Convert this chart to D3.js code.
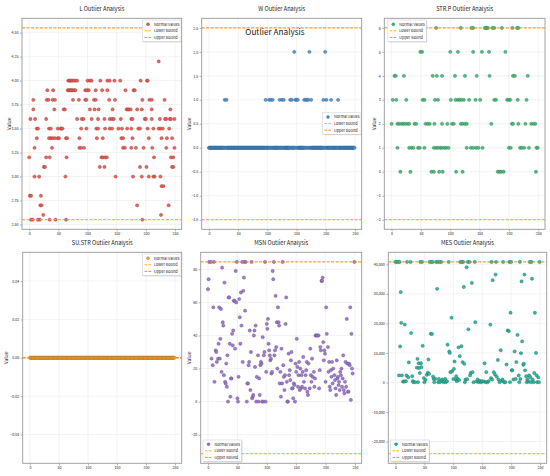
<!DOCTYPE html>
<html>
<head>
<meta charset="utf-8">
<script src="https://cdn.jsdelivr.net/npm/d3@7"></script>
<style>
  body { margin: 0; background: #fff; }
  text { font-family: "Noto Sans CJK SC", sans-serif; fill: #222; }
</style>
</head>
<body>
<script>
// values (index 0..249 on x)
const xTicks = [0, 50, 100, 150, 200, 250];
const legendLabels = ['Normal Values', 'Lower Bound', 'Upper Bound'];

// L: [value, indices at that value]
const lRows = [
  [4.2, [222]],
  [4.0, [67, 69, 71, 73, 76, 79, 82, 100, 104, 107, 122, 134, 138, 146, 156, 191, 202, 203]],
  [3.9, [31, 41, 66, 68, 70, 72, 74, 77, 79, 96, 99, 102, 114, 125, 134, 165, 179, 181]],
  [3.8, [7, 30, 33, 40, 44, 75, 85, 96, 98, 111, 114, 137, 147, 194, 206, 210, 232]],
  [3.7, [7, 43, 59, 61, 104, 112, 119, 143, 167, 169, 171, 174, 185, 193, 210, 242]],
  [3.6, [2, 10, 29, 82, 90, 93, 107, 118, 129, 138, 142, 145, 157, 175, 177, 198, 200, 210, 224, 233, 235, 241, 243, 249]],
  [3.5, [13, 15, 34, 37, 49, 54, 55, 57, 89, 98, 115, 118, 130, 138, 142, 153, 159, 168, 175, 187, 190, 203, 213, 222, 225, 229, 240]],
  [3.4, [13, 34, 37, 40, 44, 49, 51, 63, 65, 86, 116, 126, 158, 161, 177, 205, 227, 236, 245]],
  [3.3, [9, 39, 86, 89, 94, 161, 164, 175, 183, 196, 211, 235, 249]],
  [3.2, [0, 29, 35, 64, 124, 126, 130, 133, 214, 243, 247]],
  [3.1, [25, 27, 121, 129, 190, 201, 245, 247]],
  [3.0, [9, 17, 62, 148, 178, 193, 205, 213, 215, 225]],
  [2.9, [227, 230]],
  [2.8, [1, 3, 20]],
  [2.7, [19, 21, 185, 239]],
  [2.6, [24, 226]],
  [2.55, [3, 6, 15, 18, 35, 45, 63, 194]]
];
const lTicks = [2.5, 2.75, 3.0, 3.25, 3.5, 3.75, 4.0, 4.25, 4.5];
const lBounds = [2.55, 4.55];

// W: one digit per index, groups of ten
const wDigits = '0000000000 0000000000 0000000100 1000000000 0000000000 ' +
                '0000000000 0000000000 0000000000 0000000000 0000000100 ' +
                '0001001001 0000000000 0100010010 0000000001 0010002010 ' +
                '1010000000 0001001010 1020010000 0000000000 0000001002 ' +
                '0100000001 0000000000 0100000000 0000000000 0000000000';
const wTicks = [-1.5, -1.0, -0.5, 0.0, 0.5, 1.0, 1.5, 2.0, 2.5];
const wBounds = [-1.5, 2.5];

// STR.P: [value, indices]
const strpRows = [
  [6, [76, 118, 136, 139, 159, 161, 162, 164, 172, 175, 188, 206, 214, 216]],
  [5, [49, 52, 100, 113, 139, 154, 166, 194]],
  [4, [5, 7, 21, 70, 77, 86, 108, 125, 145, 167, 207, 210, 232]],
  [3, [2, 8, 25, 53, 56, 74, 79, 101, 109, 113, 116, 119, 123, 132, 143, 151, 175, 178, 197, 200, 202, 215, 230]],
  [2, [0, 10, 13, 17, 20, 23, 27, 30, 39, 42, 58, 62, 65, 73, 86, 95, 103, 106, 118, 121, 125, 128, 170, 205, 207, 216, 228, 238, 242, 245]],
  [1, [10, 30, 34, 37, 45, 48, 56, 72, 76, 79, 83, 86, 90, 93, 97, 128, 135, 139, 144, 148, 155, 200, 203, 219, 222, 226, 234, 247, 249]],
  [0, [15, 32, 68, 72, 81, 87, 110, 121, 181, 184, 187, 191, 246]]
];
const strpTicks = [-2, -1, 0, 1, 2, 3, 4, 5, 6];
const strpBounds = [-2, 6];

// SU.STR: every one of the 250 rows is 0
const suCount = 250;
const suValue = 0;
const suTicks = [-0.04, -0.02, 0.0, 0.02, 0.04];
const suBounds = [0, 0];

// MSN: [index, value]
const msnPoints = [[0,68],[1,74],[2,84.5],[5,84.5],[6,26],[8,22],[9,57],[10,84.5],[11,12],[13,31],[14,30],[15,24],[17,26],[18,35],[19,57],[20,26],[21,38],[22,56],[23,18],[24,81],[25,48],[26,46],[27,16],[28,72],[29,12],[30,11],[31,23],[32,9],[33,28],[34,0],[35,63],[36,63],[37,35],[38,3],[39,14],[40,14],[41,41],[42,34],[43,43],[44,61],[45,61],[46,32],[47,79],[48,60],[49,84.5],[50,2],[51,0],[52,15],[53,62],[54,51],[55,35],[56,66],[57,46],[58,84.5],[59,24],[60,67],[61,75],[62,84.5],[63,55],[64,84.5],[66,0],[67,11],[68,11],[69,22],[70,24],[71,43],[72,7],[73,30],[74,84.5],[75,2],[76,3],[77,4],[78,40],[79,43],[80,21],[81,46],[82,0],[83,15],[85,28],[86,0],[87,14],[88,4],[89,22],[90,24],[91,23],[92,0],[93,39],[94,0],[95,28],[96,30],[97,84.5],[98,0],[99,18],[100,47],[101,44],[102,50],[103,35],[104,31],[105,28],[106,25],[107,26],[108,17],[109,18],[110,79],[111,74],[112,84.5],[113,28],[114,31],[115,64],[116,33],[117,48],[118,20],[119,57],[120,48],[121,46],[122,11],[123,18],[124,3],[125,32],[126,11],[127,84.5],[128,22],[129,15],[130,7],[131,16],[132,47],[133,63],[134,12],[135,0],[136,0],[137,29],[138,16],[139,19],[140,13],[141,25],[142,30],[143,8],[144,8],[145,2],[146,11],[147,10],[148,0],[149,23],[150,18],[151,38],[152,21],[153,9],[154,16],[155,24],[156,7],[157,20],[158,8],[159,16],[160,9],[161,18],[162,27],[163,12],[165,8],[166,16],[167,19],[168,24],[169,6],[170,4],[171,23],[173,8],[174,32],[175,16],[176,12],[177,26],[178,15],[180,18],[181,9],[182,14],[183,40],[184,40],[186,40],[188,40],[189,8],[190,19],[191,33],[192,31],[193,73],[194,73],[195,75],[196,36],[197,25],[198,31],[199,29],[200,12],[201,57],[202,41],[204,33],[205,18],[206,24],[207,9],[208,7],[209,19],[210,15],[211,24],[212,11],[213,20],[215,16],[216,13],[217,8],[218,4],[219,25],[220,14],[221,15],[222,10],[223,12],[224,7],[225,18],[226,16],[227,20],[228,9],[229,14],[230,28],[231,7],[232,5],[233,12],[234,24],[235,9],[236,50],[237,23],[238,6],[239,6],[240,23],[241,22],[242,57],[243,1],[244,41],[245,20],[246,17],[249,84.5]];
const msnTicks = [-20, 0, 20, 40, 60, 80];
const msnBounds = [-31.5, 84.5];

// MES: rows capped at the upper bound, then the rest as [index, value]
const mesCapped = [0, 2, 5, 7, 20, 26, 43, 46, 59, 62, 64, 70, 73, 76, 79, 92, 112, 115, 117, 125, 128, 137, 166, 174, 186, 197, 200, 215, 232, 235, 249];
const mesPoints = [[9,30600],[8,12200],[10,20200],[16,19600],[6,2400],[11,2400],[13,300],[15,300],[18,450],[19,2400],[22,1800],[23,6800],[27,16700],[29,2100],[30,450],[31,100],[34,100],[37,5000],[38,8000],[39,100],[40,6500],[41,4900],[42,3200],[44,6500],[45,5200],[47,12400],[49,1500],[50,100],[52,900],[54,2600],[56,3300],[57,7800],[58,2900],[61,16500],[63,16400],[65,2000],[66,1200],[67,100],[69,1200],[72,31700],[74,100],[75,1200],[77,100],[80,550],[81,1000],[83,100],[86,1200],[87,100],[89,450],[90,12800],[93,10500],[94,10000],[95,3500],[97,21900],[98,3800],[100,1200],[101,4600],[102,7100],[104,1000],[105,2100],[106,450],[108,1200],[109,11900],[110,800],[111,8900],[114,12300],[116,6900],[118,32300],[119,6300],[120,100],[121,1000],[123,39000],[124,1100],[126,18000],[129,2400],[130,3200],[132,33700],[133,3500],[135,100],[138,20400],[140,300],[142,1000],[144,100],[146,550],[148,100],[150,450],[153,300],[154,6500],[156,100],[157,3500],[159,100],[161,450],[164,19600],[165,1500],[167,1000],[168,34600],[170,3500],[172,2700],[173,36500],[175,2000],[177,7600],[178,1000],[180,100],[182,10900],[184,550],[185,1000],[188,100],[190,100],[192,6100],[194,17600],[196,17400],[198,100],[199,23600],[201,4100],[202,4200],[204,1000],[206,10500],[208,1200],[209,6900],[211,16100],[213,2400],[214,100],[216,1200],[217,9900],[218,34200],[219,13900],[221,6000],[222,6400],[223,36500],[224,4100],[226,2100],[227,100],[228,1000],[230,300],[231,2400],[233,1800],[234,100],[236,35100],[237,1000],[239,100],[240,3200],[241,23600],[243,10000],[244,2400],[245,100],[247,1700],[248,100]];
const mesTicks = [-20000, -10000, 0, 10000, 20000, 30000, 40000];
const mesBounds = [-24100, 40800];

const width = 550, height = 476;

const fromRows = rows => rows.flatMap(([v, idx]) => idx.map(i => [i, v]));

const panels = [
  { title: 'L Outlier Analysis', box: [22, 18.3, 181.7, 229.3], points: fromRows(lRows),
    ticks: lTicks, fmt: d3.format('.2f'), bounds: lBounds, color: '#e2564f', legend: 'tr', ylabel: 9 },
  { title: 'W Outlier Analysis', box: [201.7, 18.3, 361.7, 229.3],
    points: wDigits.replace(/ /g, '').split('').map((c, i) => [i, +c]),
    ticks: wTicks, fmt: d3.format('.1f'), bounds: wBounds, color: '#4a8fcf', legend: 'cr', ylabel: 189.5 },
  { title: 'STR.P Outlier Analysis', box: [384.3, 18.3, 545, 229.3], points: fromRows(strpRows),
    ticks: strpTicks, fmt: d3.format('d'), bounds: strpBounds, color: '#3cb873', legend: 'tl', ylabel: 374.5 },
  { title: 'SU.STR Outlier Analysis', box: [22.7, 252.3, 181.7, 463.3],
    points: d3.range(suCount).map(i => [i, suValue]),
    ticks: suTicks, fmt: d3.format('.2f'), bounds: suBounds, color: '#f2a93b', legend: 'tr', ylabel: 6.5,
    domain: [-0.055, 0.055] },
  { title: 'MSN Outlier Analysis', box: [200.7, 252.3, 361.7, 463.3], points: msnPoints,
    ticks: msnTicks, fmt: d3.format('d'), bounds: msnBounds, color: '#9370c8', legend: 'bl', ylabel: 189.5 },
  { title: 'MES Outlier Analysis', box: [388.3, 252.3, 546.7, 463.3],
    points: mesCapped.map(i => [i, mesBounds[1]]).concat(mesPoints),
    ticks: mesTicks, fmt: d3.format(','), bounds: mesBounds, color: '#26ad96', legend: 'bl', ylabel: null }
];

const svg = d3.select('body').append('svg')
    .attr('width', width)
    .attr('height', height);

const lowerColor = '#ffa500', upperColor = '#ff8200';

function drawLegend(g, x, y, color) {
  const w = 38.5, h = 21.5;
  g.append('rect').attr('x', x + 0.8).attr('y', y + 0.8).attr('width', w).attr('height', h)
      .attr('fill', '#999').attr('opacity', 0.5);
  g.append('rect').attr('x', x).attr('y', y).attr('width', w).attr('height', h)
      .attr('fill', '#fff').attr('stroke', '#ccc').attr('stroke-width', 0.5);
  legendLabels.forEach((label, k) => {
    const cy = y + 4.2 + k * 6.6;
    if (k === 0) {
      g.append('circle').attr('cx', x + 5.5).attr('cy', cy).attr('r', 1.5)
          .attr('fill', color).attr('stroke', d3.color(color).darker(1.3)).attr('stroke-width', 0.35);
    } else {
      g.append('line').attr('x1', x + 2).attr('x2', x + 9).attr('y1', cy).attr('y2', cy)
          .attr('stroke', k === 1 ? lowerColor : upperColor)
          .attr('stroke-width', 0.9).attr('stroke-dasharray', '2.6,1.2');
    }
    g.append('text').attr('x', x + 11.5).attr('y', cy + 1.3)
        .attr('font-size', 3.8).text(label);
  });
}

panels.forEach(p => {
  const [x0, y0, x1, y1] = p.box;
  const lo = p.bounds[0], hi = p.bounds[1], pad = (hi - lo) * 0.05;
  const x = d3.scaleLinear().domain([-12.45, 261.45]).range([x0, x1]);
  const y = d3.scaleLinear().domain(p.domain || [lo - pad, hi + pad]).range([y1, y0]);
  const g = svg.append('g');

  // grid
  g.append('g').selectAll('line').data(xTicks).join('line')
      .attr('x1', d => x(d)).attr('x2', d => x(d)).attr('y1', y0).attr('y2', y1)
      .attr('stroke', '#e6e6e6').attr('stroke-width', 0.5);
  g.append('g').selectAll('line').data(p.ticks).join('line')
      .attr('x1', x0).attr('x2', x1).attr('y1', d => y(d)).attr('y2', d => y(d))
      .attr('stroke', '#e6e6e6').attr('stroke-width', 0.5);

  // points
  g.append('g').selectAll('circle').data(p.points).join('circle')
      .attr('cx', d => x(d[0])).attr('cy', d => y(d[1])).attr('r', 1.65)
      .attr('fill', p.color).attr('fill-opacity', 0.9)
      .attr('stroke', d3.color(p.color).darker(1.3)).attr('stroke-width', 0.35);

  // bound lines
  [[lo, lowerColor], [hi, upperColor]].forEach(([v, c]) => {
    g.append('line').attr('x1', x0).attr('x2', x1).attr('y1', y(v)).attr('y2', y(v))
        .attr('stroke', c).attr('stroke-width', 1).attr('stroke-dasharray', '3,1.5');
  });

  // axes
  const ax = g.append('g').attr('transform', `translate(0,${y1})`)
      .call(d3.axisBottom(x).tickValues(xTicks).tickSize(2).tickPadding(1.5));
  const ay = g.append('g').attr('transform', `translate(${x0},0)`)
      .call(d3.axisLeft(y).tickValues(p.ticks).tickFormat(p.fmt).tickSize(2).tickPadding(1.5));
  [ax, ay].forEach(a => {
    a.select('.domain').remove();
    a.selectAll('line').attr('stroke', '#666').attr('stroke-width', 0.5);
    a.selectAll('text').attr('font-size', 3.6).attr('font-family', '"Noto Sans CJK SC", sans-serif');
  });

  g.append('rect').attr('x', x0).attr('y', y0).attr('width', x1 - x0).attr('height', y1 - y0)
      .attr('fill', 'none').attr('stroke', '#999').attr('stroke-width', 0.9);

  g.append('text').attr('x', (x0 + x1) / 2).attr('y', y0 - 7.2)
      .attr('text-anchor', 'middle').attr('font-size', 5.6).text(p.title);

  if (p.ylabel !== null) {
    g.append('text').attr('transform', `translate(${p.ylabel + 1.8},${(y0 + y1) / 2}) rotate(-90)`)
        .attr('text-anchor', 'middle').attr('font-size', 5).text('Value');
  }

  const lx = { tr: x1 - 39.2, cr: x1 - 39.2, tl: x0 + 3.5, bl: x0 + 2.3 }[p.legend];
  const ly = { tr: y0 + 1.7, cr: (y0 + y1) / 2 - 11, tl: y0 + 1.7, bl: y1 - 23.3 }[p.legend];
  drawLegend(g, lx, ly, p.color);
});

svg.append('text').attr('x', width / 2).attr('y', 35)
    .attr('text-anchor', 'middle').attr('font-size', 8.2).text('Outlier Analysis');
</script>
</body>
</html>
